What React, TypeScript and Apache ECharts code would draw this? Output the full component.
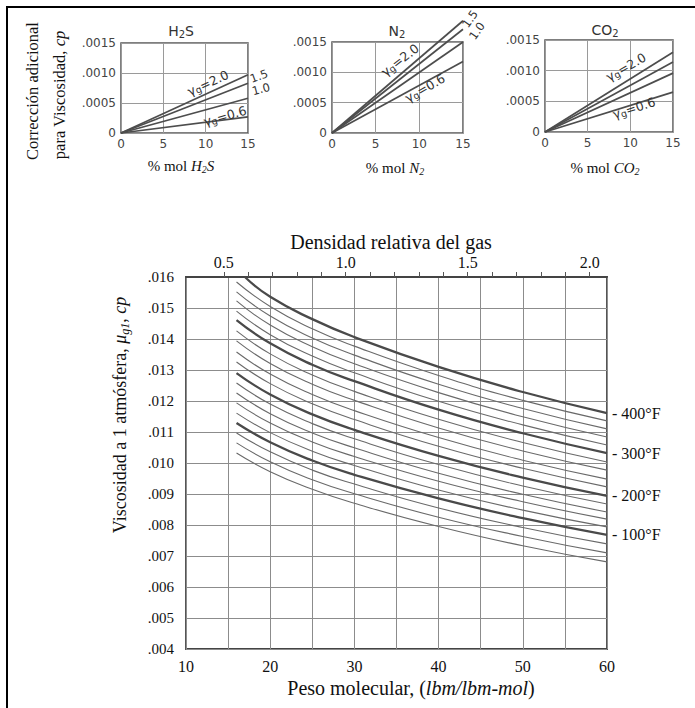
import { useEffect, useRef } from 'react';
import * as echarts from 'echarts';

// ---------- data ----------
const gravityLabels = ['2.0', '1.5', '1.0', '0.6'];
const molPercent = [0, 15];
// viscosity correction (cp) at 15 % mol for gas gravity 2.0, 1.5, 1.0, 0.6
const h2sAt15 = [0.00097, 0.00083, 0.00058, 0.00027];
const n2At15 = [0.00185, 0.00171, 0.0015, 0.00118];
const co2At15 = [0.0013, 0.00114, 0.00096, 0.00065];

const molWeights = [16, 20, 25, 30, 40, 50, 60];
const molWeights400 = [17, 20, 25, 30, 40, 50, 60];
const temperatures = [400, 380, 360, 340, 320, 300, 280, 260, 240, 220, 200, 180, 160, 140, 120, 100, 80, 60, 40];
const boldTemperatures = [400, 300, 200, 100];

const v400 = [0.016, 0.01536, 0.01464, 0.01406, 0.0131, 0.01229, 0.01161];
const v380 = [0.01584, 0.01505, 0.01433, 0.01377, 0.01282, 0.01202, 0.01136];
const v360 = [0.01552, 0.01474, 0.01403, 0.01348, 0.01254, 0.01176, 0.0111];
const v340 = [0.01523, 0.01445, 0.01375, 0.0132, 0.01227, 0.01149, 0.01084];
const v320 = [0.0149, 0.01414, 0.01345, 0.01291, 0.01199, 0.01123, 0.01058];
const v300 = [0.01461, 0.01386, 0.01317, 0.01264, 0.01172, 0.01096, 0.01032];
const v280 = [0.01426, 0.01352, 0.01284, 0.01231, 0.01141, 0.01066, 0.01003];
const v260 = [0.01394, 0.01321, 0.01254, 0.01202, 0.01113, 0.01039, 0.00977];
const v240 = [0.01358, 0.01287, 0.01221, 0.01169, 0.01082, 0.01009, 0.00948];
const v220 = [0.01326, 0.01256, 0.01191, 0.0114, 0.01054, 0.00983, 0.00923];
const v200 = [0.0129, 0.01221, 0.01157, 0.01107, 0.01023, 0.00953, 0.00894];
const v180 = [0.01258, 0.0119, 0.01127, 0.01078, 0.00995, 0.00926, 0.00868];
const v160 = [0.01226, 0.01159, 0.01097, 0.01049, 0.00967, 0.00899, 0.00842];
const v140 = [0.01194, 0.01129, 0.01068, 0.01021, 0.00941, 0.00875, 0.00819];
const v120 = [0.01161, 0.01098, 0.01038, 0.00992, 0.00913, 0.00848, 0.00794];
const v100 = [0.01129, 0.01067, 0.01008, 0.00962, 0.00886, 0.00822, 0.00768];
const v80 = [0.01097, 0.01036, 0.00977, 0.00932, 0.00855, 0.00792, 0.00739];
const v60 = [0.01065, 0.01004, 0.00946, 0.00901, 0.00825, 0.00763, 0.0071];
const v40 = [0.01032, 0.00972, 0.00915, 0.0087, 0.00795, 0.00733, 0.00681];
const viscosityCurves = [v400, v380, v360, v340, v320, v300, v280, v260, v240, v220, v200, v180, v160, v140, v120, v100, v80, v60, v40];

const AIR_MW = 28.97;
const densityTicks = [0.5, 0.6, 0.7, 0.8, 0.9, 1.0, 1.1, 1.2, 1.3, 1.4, 1.5, 1.6, 1.7, 1.8, 1.9, 2.0];
const densityLabels = [0.5, 1.0, 1.5, 2.0];

// ---------- styling ----------
const SERIF = 'Liberation Serif';
const SANS = 'DejaVu Sans';

function richSet(size: number, sub: number, family: string, color = '#111') {
  const lh = Math.round(size * 1.15);
  const sl = Math.round(sub * 0.8);
  return {
    n: { fontFamily: family, fontSize: size, lineHeight: lh, verticalAlign: 'middle', fill: color },
    i: { fontFamily: family, fontSize: size, fontStyle: 'italic', lineHeight: lh, verticalAlign: 'middle', fill: color },
    s: { fontFamily: family, fontSize: sub, lineHeight: sl, verticalAlign: 'bottom', fill: color },
    is: { fontFamily: family, fontSize: sub, fontStyle: 'italic', lineHeight: sl, verticalAlign: 'bottom', fill: color },
  };
}

function txt(x: number, y: number, text: string, rich: any, rotDeg = 0, size = 14, family = SERIF, color = '#111') {
  return {
    type: 'text',
    x,
    y,
    rotation: (rotDeg * Math.PI) / 180,
    silent: true,
    z: 10,
    style: {
      text,
      rich,
      fill: color,
      fontSize: size,
      fontFamily: family,
      align: 'center',
      verticalAlign: 'middle',
      textAlign: 'center',
      textVerticalAlign: 'middle',
    },
  };
}

function buildOption() {
  const smallGrids = [
    { left: 121, top: 43, width: 127, height: 90 },
    { left: 332, top: 42, width: 131, height: 91 },
    { left: 545, top: 40, width: 128, height: 92 },
  ];
  const grid = [
    ...smallGrids.map((g) => ({ ...g, show: true, borderColor: '#555', borderWidth: 1.5, backgroundColor: 'transparent' })),
    { left: 186, top: 277, width: 421, height: 372, show: true, borderColor: '#444', borderWidth: 1.8 },
  ];

  const smallLabel = { fontFamily: SANS, fontSize: 12, color: '#444' };
  const smallSplit = { show: true, lineStyle: { color: '#9a9a9a', width: 1 } };

  const xAxis: any[] = [0, 1, 2].map((i) => ({
    gridIndex: i,
    type: 'value',
    min: 0,
    max: 15,
    interval: 5,
    axisLine: { show: false },
    axisTick: { show: false },
    axisLabel: { ...smallLabel, margin: 5 },
    splitLine: smallSplit,
  }));
  xAxis.push({
    gridIndex: 3,
    type: 'value',
    min: 10,
    max: 60,
    interval: 5,
    axisLine: { show: false },
    axisTick: { show: false },
    axisLabel: {
      formatter: (v: number) => (v % 10 === 0 ? String(v) : ''),
      fontFamily: SERIF,
      fontSize: 16,
      color: '#111',
      margin: 9,
    },
    splitLine: { show: true, lineStyle: { color: '#8c8c8c', width: 1 } },
  });
  xAxis.push({
    gridIndex: 3,
    type: 'value',
    position: 'top',
    min: 10 / AIR_MW,
    max: 60 / AIR_MW,
    axisLine: { show: true, lineStyle: { color: '#444', width: 1.8 } },
    axisTick: { show: true, length: 5, customValues: densityTicks, lineStyle: { color: '#555', width: 1 } },
    axisLabel: {
      customValues: densityLabels,
      formatter: (v: number) => v.toFixed(1),
      fontFamily: SERIF,
      fontSize: 16,
      color: '#111',
      margin: 7,
    },
    splitLine: { show: false },
  });

  const yAxis: any[] = [0, 1, 2].map((i) => ({
    gridIndex: i,
    type: 'value',
    min: 0,
    max: 0.0015,
    interval: 0.0005,
    axisLine: { show: false },
    axisTick: { show: false },
    axisLabel: {
      ...smallLabel,
      margin: 5,
      formatter: (v: number) => (v === 0 ? '0' : v.toFixed(4).replace(/^0/, '')),
    },
    splitLine: smallSplit,
  }));
  yAxis.push({
    gridIndex: 3,
    type: 'value',
    min: 0.004,
    max: 0.016,
    interval: 0.001,
    axisLine: { show: false },
    axisTick: { show: false },
    axisLabel: {
      formatter: (v: number) => v.toFixed(3).replace(/^0/, ''),
      fontFamily: SERIF,
      fontSize: 15,
      color: '#111',
      margin: 12,
    },
    splitLine: { show: true, lineStyle: { color: '#8c8c8c', width: 1 } },
  });

  const series: any[] = [];
  [h2sAt15, n2At15, co2At15].forEach((ends, gi) => {
    ends.forEach((v, k) => {
      series.push({
        type: 'line',
        name: `gas${gi}-${gravityLabels[k]}`,
        xAxisIndex: gi,
        yAxisIndex: gi,
        data: [
          [molPercent[0], 0],
          [molPercent[1], v],
        ],
        symbol: 'none',
        clip: false,
        silent: true,
        lineStyle: { color: '#4d4d4d', width: 1.7 },
        z: 3,
      });
    });
  });

  viscosityCurves.forEach((vals, idx) => {
    const T = temperatures[idx];
    const bold = boldTemperatures.includes(T);
    const xs = T === 400 ? molWeights400 : molWeights;
    series.push({
      type: 'line',
      name: `${T}°F`,
      xAxisIndex: 3,
      yAxisIndex: 3,
      data: vals.map((v, j) => [xs[j], v]),
      symbol: 'none',
      smooth: 0.5,
      silent: true,
      lineStyle: { color: bold ? '#4a4a4a' : '#6a6a6a', width: bold ? 2.3 : 1.1 },
      endLabel: bold
        ? { show: true, formatter: `- ${T}°F`, fontFamily: SERIF, fontSize: 16, color: '#111', distance: 5 }
        : { show: false },
      z: bold ? 4 : 3,
    });
  });

  const rSmallTitle = richSet(14, 10, SANS, '#333');
  const rSmallX = richSet(15, 10, SERIF, '#111');
  const rGamma = richSet(12.5, 9.5, SANS, '#333');
  const rNum = richSet(11.5, 9, SANS, '#333');
  const rMainY = richSet(18, 12, SERIF, '#111');
  const rMainX = richSet(20, 13, SERIF, '#111');
  const rLeft = richSet(16.5, 11, SERIF, '#111');

  const graphic: any[] = [
    { type: 'line', silent: true, shape: { x1: 7, y1: 6, x2: 7, y2: 708 }, style: { stroke: '#000', lineWidth: 2 } },
    { type: 'line', silent: true, shape: { x1: 6, y1: 7, x2: 695, y2: 7 }, style: { stroke: '#000', lineWidth: 2 } },

    txt(181, 31, '{n|H}{s|2}{n|S}', rSmallTitle, 0, 14, SANS, '#333'),
    txt(397, 31, '{n|N}{s|2}', rSmallTitle, 0, 14, SANS, '#333'),
    txt(605, 30, '{n|CO}{s|2}', rSmallTitle, 0, 14, SANS, '#333'),

    txt(32, 91, '{n|Corrección adicional}', rLeft, 90, 16.5),
    txt(59, 95, '{n|para Viscosidad, }{i|cp}', rLeft, 90, 16.5),

    txt(181, 166, '{n|% mol }{i|H}{is|2}{i|S}', rSmallX, 0, 15),
    txt(395, 168, '{n|% mol }{i|N}{is|2}', rSmallX, 0, 15),
    txt(605, 168, '{n|% mol }{i|CO}{is|2}', rSmallX, 0, 15),

    txt(208, 83, '{n|γ}{s|g}{n|=2.0}', rGamma, 25, 12.5, SANS, '#333'),
    txt(225, 116, '{n|γ}{s|g}{n|=0.6}', rGamma, 16, 12.5, SANS, '#333'),
    txt(259, 76, '{n|1.5}', rNum, 20, 11.5, SANS, '#333'),
    txt(261, 89, '{n|1.0}', rNum, 15, 11.5, SANS, '#333'),

    txt(400, 60, '{n|γ}{s|g}{n|=2.0}', rGamma, 38, 12.5, SANS, '#333'),
    txt(425, 88, '{n|γ}{s|g}{n|=0.6}', rGamma, 30, 12.5, SANS, '#333'),
    txt(470, 19, '{n|1.5}', rNum, 55, 11.5, SANS, '#333'),
    txt(477, 31, '{n|1.0}', rNum, 55, 11.5, SANS, '#333'),

    txt(626, 67, '{n|γ}{s|g}{n|=2.0}', rGamma, 30, 12.5, SANS, '#333'),
    txt(634, 108, '{n|γ}{s|g}{n|=0.6}', rGamma, 18, 12.5, SANS, '#333'),

    txt(391, 242, '{n|Densidad relativa del gas}', rMainX, 0, 20),
    txt(411, 688, '{n|Peso molecular, (}{i|lbm/lbm-mol}{n|)}', rMainX, 0, 20),
    txt(120, 415, '{n|Viscosidad a 1 atmósfera, }{i|μ}{is|g1}{n|, }{i|cp}', rMainY, 90, 18),
  ];

  return {
    animation: false,
    backgroundColor: '#ffffff',
    textStyle: { fontFamily: SERIF },
    grid,
    xAxis,
    yAxis,
    series,
    graphic,
  };
}

export default function App() {
  const ref = useRef<HTMLDivElement>(null);
  useEffect(() => {
    if (!ref.current) return;
    const chart = echarts.init(ref.current, null, { renderer: 'svg' });
    chart.setOption(buildOption() as any);
    return () => chart.dispose();
  }, []);
  return (
    <div
      ref={ref}
      style={{ position: 'fixed', left: 0, top: 0, width: 695, height: 708, background: '#fff' }}
    />
  );
}
